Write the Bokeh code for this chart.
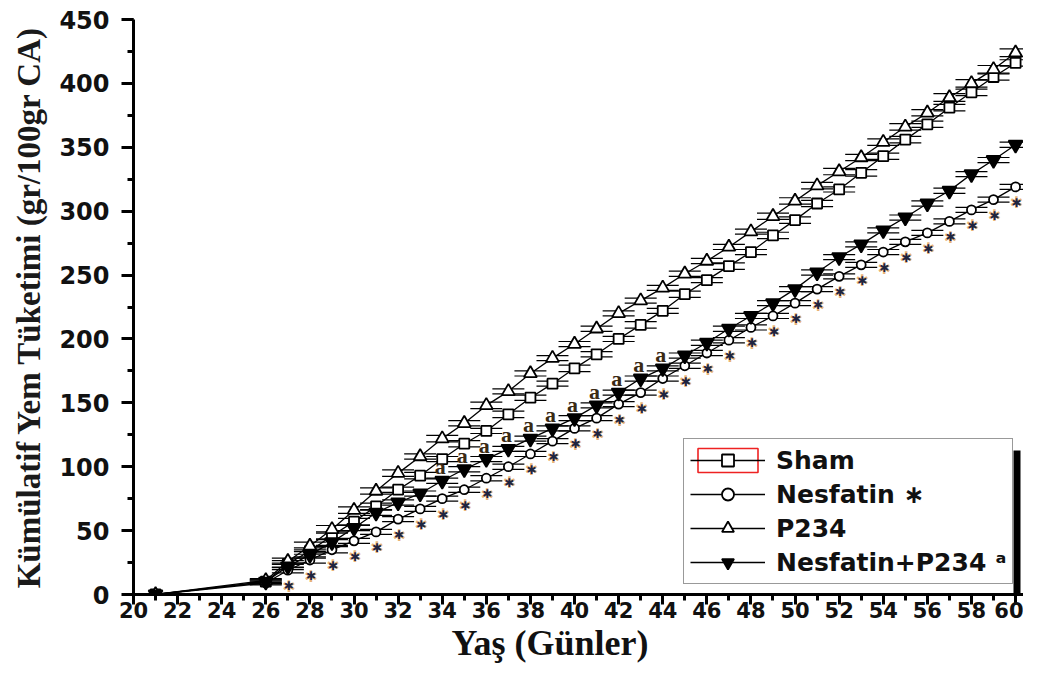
from bokeh.plotting import figure
from bokeh.models import (ColumnDataSource, Legend, LegendItem, Whisker, TeeHead,
                          FixedTicker, BoxAnnotation, Range1d, Title)
from bokeh.core.properties import value
from bokeh.embed import file_html
from bokeh.resources import INLINE

# ---------------- data ----------------
days = [21, 26, 27, 28, 29, 30, 31, 32, 33, 34, 35, 36, 37, 38, 39, 40, 41, 42,
        43, 44, 45, 46, 47, 48, 49, 50, 51, 52, 53, 54, 55, 56, 57, 58, 59, 60]

sham = [0, 10, 24, 34, 46, 57, 69, 82, 93, 106, 118, 128, 141, 154, 165, 177, 188, 200,
        211, 222, 235, 246, 257, 268, 281, 293, 306, 317, 330, 343, 356, 368, 381, 393, 405, 416]
nesfatin = [0, 9, 19, 27, 35, 42, 49, 59, 67, 75, 82, 91, 100, 110, 120, 130, 138, 149,
            158, 169, 179, 189, 199, 209, 218, 228, 239, 249, 258, 268, 276, 283, 292, 301, 309, 319]
p234 = [0, 11, 26, 38, 51, 66, 81, 95, 108, 122, 134, 148, 159, 173, 185, 196, 208, 220,
        230, 240, 251, 261, 272, 284, 296, 308, 320, 331, 342, 354, 366, 377, 389, 400, 411, 424]
nesf_p234 = [0, 10, 22, 31, 41, 52, 64, 72, 79, 89, 98, 106, 114, 122, 130, 138, 148, 158,
             169, 177, 187, 197, 208, 218, 228, 239, 252, 264, 274, 285, 295, 306, 316, 329, 340, 352]

sham_err = [0.5, 1.5, 2.5, 2.5, 3, 2.5, 2.5, 2, 2.5, 2, 2.5, 2, 2.5, 2, 2, 2.5, 2, 2,
            2.5, 2, 2.5, 2, 2.5, 2, 2.5, 2.5, 2.5, 2, 2.5, 2.5, 2.5, 2.5, 2.5, 2.5, 2.5, 2.5]
nesfatin_err = [0.5, 1.5, 2, 2.5, 2.5, 2, 2, 2, 2, 2, 2, 2, 2, 2, 2, 2, 2, 2,
                2, 2, 2, 2, 2, 2, 2, 2, 2, 2, 2, 2, 2, 2, 2, 2, 2, 2]
p234_err = [0.5, 1.5, 2.5, 3, 3, 2.5, 2.5, 2.5, 2, 2.5, 2, 2.5, 2, 2, 2, 2, 2, 2,
            2, 2, 2, 2, 2, 2, 2.5, 2.5, 2.5, 2.5, 2.5, 2.5, 2.5, 2.5, 3, 3, 3, 3]
nesf_p234_err = [0.5, 1.5, 2.5, 2.5, 2.5, 2, 2, 2, 2, 2, 2, 2, 2, 2, 2, 2, 2, 2,
                 2, 2, 2, 2, 2, 2, 2, 2, 2, 2, 2, 2, 2, 2, 2, 2, 2, 2]

star_days = days[2:]          # days marked with * (Nesfatin)
a_days = [34, 35, 36, 37, 38, 39, 40, 41, 42, 43, 44]   # days marked with a

x_ticks = [20, 22, 24, 26, 28, 30, 32, 34, 36, 38, 40, 42, 44, 46, 48, 50, 52, 54, 56, 58, 60]
x_minor = list(range(20, 62))
y_ticks = [0, 50, 100, 150, 200, 250, 300, 350, 400, 450]
y_minor = [0, 25, 50, 75, 100, 125, 150, 175, 200, 225, 250, 275, 300, 325, 350, 375, 400, 425, 450]

# ---------------- figure ----------------
p = figure(width=1023, height=663, x_range=Range1d(20, 60.36), y_range=Range1d(0, 450),
           output_backend="svg", toolbar_location=None,
           min_border_left=133, min_border_right=0, min_border_top=19, min_border_bottom=69)
p.outline_line_color = None
p.xgrid.visible = False
p.ygrid.visible = False
p.background_fill_color = "white"
p.border_fill_color = "white"

for ax in (p.xaxis[0], p.yaxis[0]):
    ax.axis_line_width = 3
    ax.axis_line_color = "black"
    ax.major_tick_line_width = 3
    ax.minor_tick_line_width = 3
    ax.major_tick_in = 0
    ax.minor_tick_in = 0
    ax.major_label_text_font = "DejaVu Sans"
    ax.major_label_text_font_style = "bold"
    ax.major_label_text_color = "#111111"

p.xaxis.ticker = FixedTicker(ticks=x_ticks, minor_ticks=x_minor)
p.xaxis.major_tick_out = 10
p.xaxis.minor_tick_out = 6
p.xaxis.major_label_text_font_size = "21px"
p.xaxis.major_label_standoff = -3

p.yaxis.ticker = FixedTicker(ticks=y_ticks, minor_ticks=y_minor)
p.yaxis.major_tick_out = 12
p.yaxis.minor_tick_out = 6
p.yaxis.major_label_text_font_size = "24px"
p.yaxis.major_label_standoff = 12
p.yaxis.axis_label = "Kümülatif Yem Tüketimi (gr/100gr CA)"
p.yaxis.axis_label_text_font = "Liberation Serif"
p.yaxis.axis_label_text_font_style = "bold"
p.yaxis.axis_label_text_font_size = "33px"
p.yaxis.axis_label_text_color = "#1a1a1a"
p.yaxis.axis_label_standoff = 9

# x axis title (placed below the axis, shifted to match the reference)
p.add_layout(Title(text="Yaş (Günler)", align="left", offset=318, standoff=0,
                   text_font="Liberation Serif", text_font_style="bold",
                   text_font_size="36px", text_color="#111111"), "below")

# ---------------- series ----------------
series = [
    ("Sham", sham, sham_err, "square", 10, "white"),
    ("Nesfatin ∗", nesfatin, nesfatin_err, "circle", 9, "white"),
    ("P234", p234, p234_err, "triangle", 13, "white"),
    ("Nesfatin+P234 ᵃ", nesf_p234, nesf_p234_err, "inverted_triangle", 14, "black"),
]

# zero-size rect renderer whose only visible use is the red frame around the Sham legend symbol
red_src = ColumnDataSource(dict(x=days[:1], y=sham[:1]))
red_r = p.rect("x", "y", width=0, height=0, source=red_src, fill_alpha=0,
               line_color="#ee2222", line_width=1.6)

items = []
for name, vals, err, marker, size, fill in series:
    src = ColumnDataSource(dict(x=days, y=vals,
                                upper=[v + e for v, e in zip(vals, err)],
                                lower=[v - e for v, e in zip(vals, err)]))
    lr = p.line("x", "y", source=src, line_color="black", line_width=1.3)
    sr = p.scatter("x", "y", source=src, marker=marker, size=size,
                   fill_color=fill, line_color="black", line_width=1.8)
    w = Whisker(base="x", upper="upper", lower="lower", source=src, dimension="height",
                line_color="black", line_width=1.2,
                upper_head=TeeHead(size=32, line_width=1.2, line_color="black"),
                lower_head=TeeHead(size=32, line_width=1.2, line_color="black"))
    p.add_layout(w)
    rends = [red_r, lr, sr] if name == "Sham" else [lr, sr]
    items.append(LegendItem(label=name, renderers=rends))

# significance marks
star_src = ColumnDataSource(dict(x=star_days, y=nesfatin[2:], t=["✱"] * len(star_days)))
p.text("x", "y", text="t", source=star_src, y_offset=16, x_offset=1,
       text_font=value("DejaVu Sans"), text_font_size="16px", text_color="#e09a4a",
       text_alpha=0.75, text_align="center", text_baseline="middle")
p.text("x", "y", text="t", source=star_src, y_offset=16, x_offset=1,
       text_font=value("DejaVu Sans"), text_font_size="12px", text_color="#1e2440",
       text_align="center", text_baseline="middle")

a_vals = [nesf_p234[days.index(d)] for d in a_days]
a_src = ColumnDataSource(dict(x=a_days, y=a_vals, t=["a"] * len(a_days)))
p.text("x", "y", text="t", source=a_src, y_offset=-14, x_offset=-2,
       text_font=value("Liberation Serif"), text_font_style="bold", text_font_size="22px",
       text_color="#3a2a14", text_align="center", text_baseline="middle")

# ---------------- legend ----------------
legend = Legend(items=items, location=(550, 10), glyph_width=75, glyph_height=30,
                label_height=30, spacing=4, padding=6, label_standoff=11, label_width=225,
                label_text_font="DejaVu Sans", label_text_font_style="bold",
                label_text_font_size="25px", label_text_color="#111111",
                border_line_color="#333333", border_line_width=1,
                background_fill_color="white", background_fill_alpha=1, margin=0)
p.add_layout(legend)

# legend shadow on the right
p.add_layout(BoxAnnotation(left=880, right=887, top=144, bottom=0,
                           left_units="screen", right_units="screen",
                           top_units="screen", bottom_units="screen",
                           fill_color="black", fill_alpha=1, line_color=None))

open("out.html", "w").write(file_html(p, INLINE))
